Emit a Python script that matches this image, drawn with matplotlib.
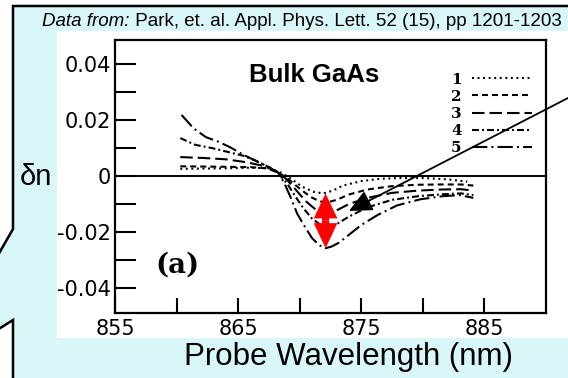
import matplotlib
matplotlib.use("Agg")
import matplotlib.pyplot as plt
from matplotlib.patches import Polygon, Rectangle
from matplotlib.text import Annotation

# probe wavelength (nm) and index change dn for the five traces
wl_1 = [860.3, 862.4, 864.4, 866.0, 867.5, 868.5, 869.3, 870.2, 871.1, 871.9,
        872.7, 873.5, 875.0, 876.5, 878.0, 880.1, 882.1, 883.6]
dn_1 = [0.0026, 0.0027, 0.0028, 0.0030, 0.0028, 0.0012, -0.0010, -0.0038, -0.0056, -0.0062,
        -0.0052, -0.0034, -0.0018, -0.0010, -0.0007, -0.0007, -0.0012, -0.0020]

wl_2 = [860.3, 862.4, 864.4, 866.0, 867.3, 868.3, 869.1, 870.0, 870.9, 871.6,
        872.2, 873.0, 874.0, 875.5, 877.5, 879.6, 881.6, 883.1, 884.1]
dn_2 = [0.0035, 0.0034, 0.0033, 0.0032, 0.0028, 0.0012, -0.0012, -0.0045, -0.0075, -0.0090,
        -0.0095, -0.0085, -0.0066, -0.0048, -0.0036, -0.0031, -0.0030, -0.0030, -0.0034]

wl_3 = [860.3, 862.1, 864.0, 865.6, 867.0, 868.1, 868.9, 869.7, 870.5, 871.3,
        872.1, 872.9, 874.0, 875.5, 877.5, 879.6, 881.6, 883.1, 884.1]
dn_3 = [0.0068, 0.0065, 0.0060, 0.0050, 0.0037, 0.0018, -0.0010, -0.0050, -0.0090, -0.0120,
        -0.0132, -0.0125, -0.0100, -0.0078, -0.0060, -0.0052, -0.0048, -0.0047, -0.0052]

wl_4 = [860.3, 861.5, 862.9, 864.2, 865.4, 866.4, 867.5, 868.3, 869.0, 869.6, 870.3,
        871.0, 871.7, 872.3, 873.0, 874.0, 875.5, 877.5, 879.6, 881.6, 883.1, 884.1]
dn_4 = [0.0136, 0.0112, 0.0100, 0.0086, 0.0073, 0.0056, 0.0032, 0.0008, -0.0028, -0.0070, -0.0115,
        -0.0152, -0.0175, -0.0182, -0.0172, -0.0145, -0.0112, -0.0085, -0.0072, -0.0065, -0.0062, -0.0068]

wl_5 = [860.4, 861.4, 862.4, 863.4, 864.4, 865.4, 866.4, 867.5, 868.3, 868.8, 869.3, 869.8, 870.4,
        871.0, 871.6, 872.1, 872.6, 873.2, 874.0, 875.0, 876.3, 877.9, 879.8, 881.6, 883.0, 884.1]
dn_5 = [0.0219, 0.0170, 0.0139, 0.0123, 0.0102, 0.0077, 0.0055, 0.0032, 0.0010, -0.0030, -0.0080, -0.0135, -0.0180,
        -0.0222, -0.0248, -0.0258, -0.0252, -0.0238, -0.0210, -0.0175, -0.0140, -0.0105, -0.0083, -0.0072, -0.0068, -0.0078]

curve_labels = ["1", "2", "3", "4", "5"]

x_major = [855, 865, 875, 885]
x_minor = [860, 870, 880]
y_major = [-0.04, -0.02, 0.0, 0.02, 0.04]
y_minor = [-0.03, -0.01, 0.01, 0.03]
y_labels = ["-0.04", "-0.02", "0", "0.02", "0.04"]

# red arrow spans the dip of trace 1 down to the dip of trace 5
dip_wl = 872.1
dip_top = min(dn_1)
dip_bottom = min(dn_5)

# pointer arrow target
pointer_xy = (874.0, -0.0125)

plt.rcParams["font.family"] = ["Liberation Sans", "DejaVu Sans"]
plt.rcParams["lines.scale_dashes"] = False

W, H = 568, 378
fig = plt.figure(figsize=(W / 100, H / 100), dpi=100)
fig.patch.set_facecolor("white")

def fx(px):
    return px / W

def fy(py):
    return 1 - py / H

# cyan callout bubble behind everything
bubble = [(13, 6), (580, 6), (580, 390), (13, 390), (13, 320), (-6, 332), (-6, 262), (13, 229)]
fig.add_artist(Polygon([(fx(a), fy(b)) for a, b in bubble], closed=True,
                       facecolor="#d9f7f9", edgecolor="black", lw=1.8,
                       transform=fig.transFigure, zorder=-3))
# white patch of the scanned plot
fig.add_artist(Rectangle((fx(57), fy(338)), fx(568) - fx(57), fy(31) - fy(338),
                         facecolor="white", edgecolor="none",
                         transform=fig.transFigure, zorder=-2))

ax = fig.add_axes([fx(115), fy(313), fx(546) - fx(115), fy(40) - fy(313)])
ax.set_facecolor("white")

styles = [(0, (1.4, 2.6)),
          (0, (4.3, 2.9)),
          (0, (9.0, 3.6)),
          (0, (5.0, 2.2, 1.4, 2.2)),
          (0, (11.0, 3.0, 1.4, 3.0))]
series = [(wl_1, dn_1), (wl_2, dn_2), (wl_3, dn_3), (wl_4, dn_4), (wl_5, dn_5)]
lines = []
for (x, y), ls in zip(series, styles):
    ln, = ax.plot(x, y, color="black", lw=1.5, linestyle=ls)
    lines.append(ln)

ax.axhline(0, color="black", lw=1.4)

ax.set_xlim(855, 890)
ax.set_ylim(-0.049, 0.0487)
ax.set_xticks(x_major)
ax.set_xticks(x_minor, minor=True)
ax.set_yticks(y_major)
ax.set_yticks(y_minor, minor=True)
ax.set_yticklabels(y_labels)
ax.tick_params(axis="both", which="both", direction="in", width=1.5,
               labelsize=15, labelfontfamily="DejaVu Sans")
ax.tick_params(axis="y", which="both", length=15, pad=3)
ax.tick_params(axis="x", which="both", length=11, pad=4)
for sp in ax.spines.values():
    sp.set_linewidth(1.6)

ax.legend(lines, curve_labels, loc="upper right", bbox_to_anchor=(0.9675, 0.880),
          frameon=False, markerfirst=False, handlelength=3.9, handletextpad=0.7,
          labelspacing=0.2, borderpad=0, borderaxespad=0,
          prop=dict(family="DejaVu Serif", weight="bold", size=11))

ax.text(0.462, 0.872, "Bulk GaAs", transform=ax.transAxes, ha="center", va="center",
        fontsize=18.5, fontweight="bold")
ax.text(0.145, 0.176, "(a)", transform=ax.transAxes, ha="center", va="center",
        fontsize=20, family="DejaVu Serif", fontweight="bold")

# double-headed red arrow drawn as two fat arrows from the middle
mid = (dip_top + dip_bottom) / 2
for end in (dip_top, dip_bottom):
    ax.annotate("", xy=(dip_wl, end), xytext=(dip_wl, mid),
                arrowprops=dict(arrowstyle="simple,head_length=0.9,head_width=0.85,tail_width=0.26",
                                mutation_scale=20, color="red", lw=0,
                                shrinkA=0, shrinkB=0))

ax.annotate("", xy=pointer_xy, xycoords="data", xytext=(1.0, fy(98)),
            textcoords="figure fraction", annotation_clip=False,
            arrowprops=dict(arrowstyle="-|>,head_length=0.7,head_width=0.33",
                            mutation_scale=20, color="black", lw=1.3,
                            shrinkA=0, shrinkB=0))

ax.set_xlabel("Probe Wavelength (nm)", fontsize=22.5, va="center")
ax.xaxis.set_label_coords((348 - 115) / 431, -(357 - 313) / 273)
ax.set_ylabel("δn", fontsize=21, rotation=0, va="center", ha="center")
ax.yaxis.set_label_coords((36 - 115) / 431, (313 - 177) / 273)

src = fig.text(fx(42), fy(22), "Data from:", style="italic", fontsize=13.5,
               ha="left", va="center")
fig.add_artist(Annotation(
    " Park, et. al. Appl. Phys. Lett. 52 (15), pp 1201-1203",
    xy=(1, 0), xycoords=src, ha="left", va="bottom", fontsize=13.5))

fig.savefig("out.png", dpi=100)
